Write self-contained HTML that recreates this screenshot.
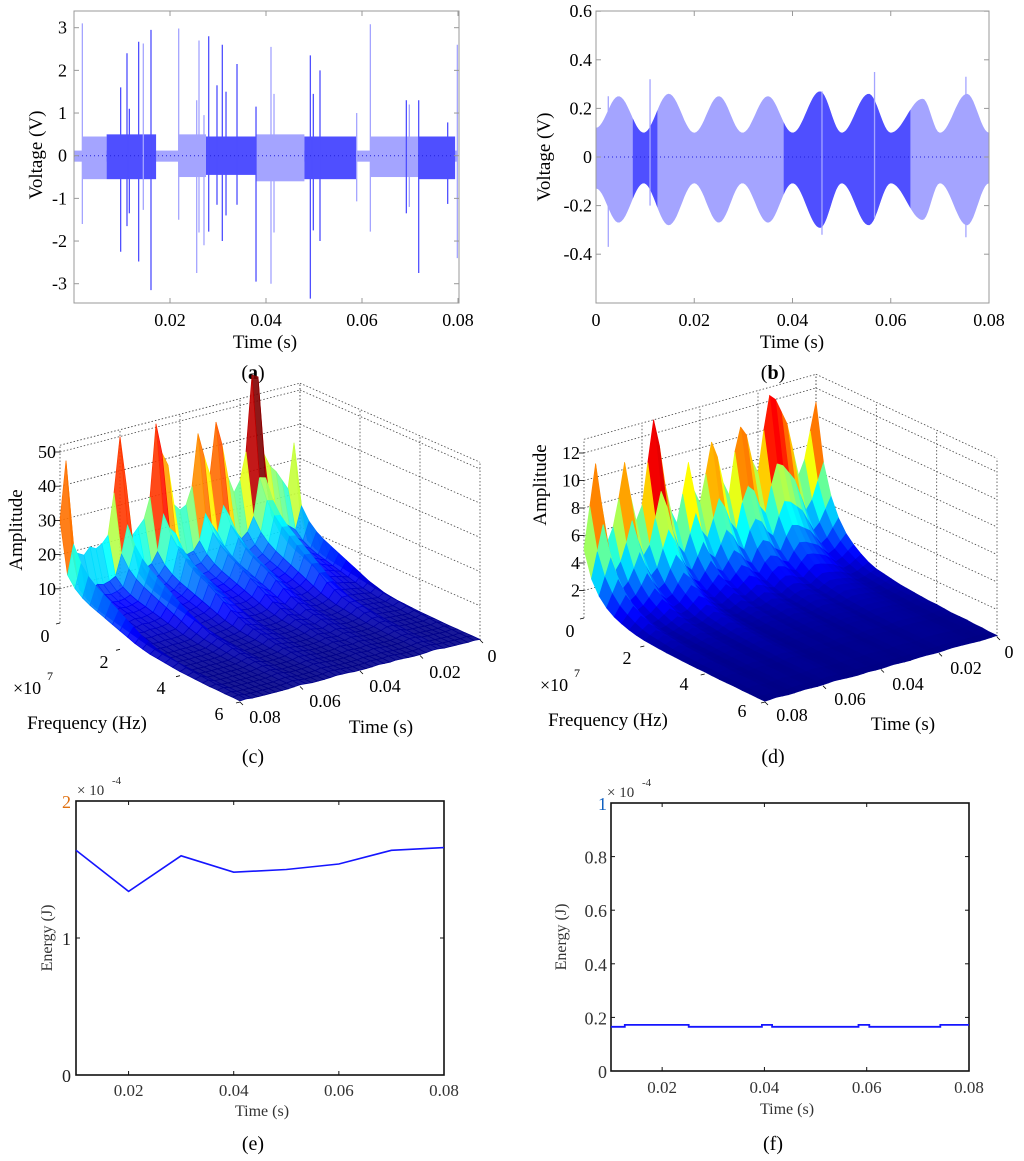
<!DOCTYPE html>
<html><head><meta charset="utf-8"><style>
html,body{margin:0;padding:0;background:#fff;}
svg{display:block;font-family:"Liberation Serif",serif;}
</style></head><body>
<svg id="fig" width="1024" height="1161" viewBox="0 0 1024 1161" xmlns="http://www.w3.org/2000/svg">
<rect width="1024" height="1161" fill="#fff"/>
<g id="pa"></g>
<g id="pb"></g>
<g id="pc"></g>
<g id="pd"></g>
<g id="pe"></g>
<g id="pf"></g>
</svg>
<script>
// ---------- Panel (a) data ----------
const aSegStart=[0.0017,0.0068,0.0217,0.0275,0.038,0.048,0.0617,0.0717];
const aSegEnd=[0.0068,0.0171,0.0275,0.038,0.048,0.0588,0.0717,0.0794];
const aSegHi=[0.45,0.5,0.5,0.45,0.5,0.45,0.45,0.45];
const aSegLo=[-0.55,-0.55,-0.5,-0.45,-0.6,-0.55,-0.5,-0.55];
const aSegDark=[0,1,0,1,0,1,0,1];
const aSpikeT=[0.00174,0.00972,0.01104,0.01153,0.01347,0.01444,0.01604,0.02181,0.02556,0.02604,0.02708,0.02806,0.02979,0.0309,0.03167,0.03396,0.03792,0.04104,0.04167,0.04924,0.04986,0.05125,0.05889,0.06174,0.06924,0.06986,0.07181,0.07785,0.07986];
const aSpikeHi=[3.1,1.6,2.4,1.1,2.67,2.63,2.95,2.98,1.3,2.7,0.95,2.8,1.65,2.6,1.5,2.15,1.15,2.55,1.45,2.35,1.45,2.0,1.0,3.08,1.3,1.2,1.3,0.78,2.6];
const aSpikeLo=[-1.6,-2.25,-1.65,-1.35,-2.48,-1.27,-3.15,-1.5,-2.75,-1.8,-2.1,-1.78,-1.15,-2.0,-1.4,-1.15,-2.95,-3.0,-1.8,-3.35,-1.75,-2.0,-1.07,-1.78,-1.35,-1.2,-2.75,-1.13,-2.4];
const aSpikeDark=[0,1,1,1,1,0,1,0,0,0,0,1,1,1,1,1,1,0,0,1,1,1,0,0,1,0,1,1,0];
const aYTicks=[-3,-2,-1,0,1,2,3];
const aXTicks=[0.02,0.04,0.06,0.08];
// ---------- Panel (b) data ----------
const bEnvT=[0,0.0046,0.0097,0.0148,0.02,0.025,0.0298,0.035,0.04,0.0456,0.050,0.0555,0.060,0.0665,0.070,0.0755,0.08];
const bEnvA=[0.12,0.25,0.1,0.26,0.1,0.25,0.1,0.25,0.1,0.27,0.1,0.26,0.1,0.24,0.1,0.26,0.1];
const bDarkStart=[0.0075,0.0382];
const bDarkEnd=[0.0125,0.064];
const bSpikeT=[0.0025,0.011,0.046,0.0567,0.0753];
const bSpikeHi=[0.25,0.32,0.27,0.35,0.33];
const bSpikeLo=[-0.37,-0.2,-0.32,-0.25,-0.33];
const bYTicks=[-0.4,-0.2,0,0.2,0.4,0.6];
const bXTicks=[0,0.02,0.04,0.06,0.08];
// ---------- Panels (c),(d) data ----------
const specTimes=[0,0.002,0.004,0.006,0.008,0.01,0.012,0.014,0.016,0.018,0.02,0.022,0.024,0.026,0.028,0.03,0.032,0.034,0.036,0.038,0.04,0.042,0.044,0.046,0.048,0.05,0.052,0.054,0.056,0.058,0.06,0.062,0.064,0.066,0.068,0.07,0.072,0.074,0.076,0.078,0.08];
const specFreqs=[0,0.25,0.5,0.75,1,1.25,1.5,1.75,2,2.25,2.5,2.75,3,3.25,3.5,3.75,4,4.25,4.5,4.75,5,5.25,5.5,5.75,6];
const cAmp=[14,35,22,25,28,30,34,57,58,36,28,25,30,40,47,32,38,45,30,25,24,26,38,42,51,30,24,22,20,36,50,34,22,20,19,20,18,19,20,47,30];
const cProfile=[1,0.5,0.4,0.34,0.3,0.27,0.24,0.21,0.18,0.15,0.12,0.1,0.08,0.07,0.06,0.05,0.04,0.035,0.03,0.025,0.02,0.02,0.015,0.015,0.01];
const dAmp=[11,9,7,6,8,10,11,12,12.4,10,7,8,10,10.7,9,6,7,9,10.2,8,6,7,9.2,7,5,6,8,11,13,10,7,6,8,10.5,8,6,5,8,11,8,5];
const dProfile=[1,0.62,0.42,0.3,0.22,0.17,0.13,0.1,0.08,0.07,0.06,0.05,0.045,0.04,0.035,0.03,0.03,0.025,0.02,0.02,0.02,0.015,0.015,0.01,0.01];
const cZTicks=[10,20,30,40,50];
const dZTicks=[2,4,6,8,10,12];
const specFTicks=[0,2,4,6];
const specTTicks=[0,0.02,0.04,0.06,0.08];
// ---------- Panels (e),(f) data ----------
const eTimes=[0.01,0.02,0.03,0.04,0.05,0.06,0.07,0.08];
const eEnergy=[1.64,1.34,1.60,1.48,1.50,1.54,1.64,1.66];
const eYTicks=[0,1,2];
const efXTicks=[0.02,0.04,0.06,0.08];
const fStepT=[0.01,0.0127,0.0252,0.0395,0.0415,0.0584,0.0605,0.0744,0.08];
const fStepV=[0.165,0.172,0.165,0.172,0.165,0.172,0.165,0.172];
const fYTicks=[0,0.2,0.4,0.6,0.8,1];

const NS="http://www.w3.org/2000/svg";
function mk(parent,tag,attrs,text){const e=document.createElementNS(NS,tag);for(const k in attrs)e.setAttribute(k,attrs[k]);if(text!==undefined)e.textContent=text;parent.appendChild(e);return e;}
function fmt(v){return String(+v.toFixed(2));}

// ===== Panel a =====
(function(){
const g=document.getElementById('pa');
const X=t=>74+t*4800, Y=v=>155.7-v*42.67;
const L='#a4a4ff', D='#4f4fff';
const base=mk(g,'rect',{x:X(0),y:Y(0.12),width:X(0.08)-X(0),height:Y(-0.14)-Y(0.12),fill:L});


for(let i=0;i<aSegStart.length;i++){
 const r=mk(g,'rect',{x:X(aSegStart[i]),y:Y(aSegHi[i]),width:X(aSegEnd[i])-X(aSegStart[i]),height:Y(aSegLo[i])-Y(aSegHi[i]),fill:aSegDark[i]?D:L});
 
 
}
for(let i=0;i<aSpikeT.length;i++){
 const l=mk(g,'line',{x1:X(aSpikeT[i]),x2:X(aSpikeT[i]),y1:Y(aSpikeHi[i]),y2:Y(aSpikeLo[i]),stroke:aSpikeDark[i]?D:L,'stroke-width':1.3});
 
 
}
mk(g,'line',{x1:X(0),x2:X(0.08),y1:Y(0),y2:Y(0),stroke:'#2222dd','stroke-width':1,'stroke-dasharray':'1 3'});
mk(g,'rect',{x:74,y:11,width:385,height:292,fill:'none',stroke:'#999','stroke-width':1});
aYTicks.forEach(v=>{const y=Y(v);mk(g,'line',{x1:74,x2:79,y1:y,y2:y,stroke:'#999'});mk(g,'line',{x1:454,x2:459,y1:y,y2:y,stroke:'#999'});
 const t=mk(g,'text',{x:67,y:y+6,'text-anchor':'end','font-size':18},String(v));});
aXTicks.forEach(v=>{const x=X(v);mk(g,'line',{x1:x,x2:x,y1:298,y2:303,stroke:'#999'});mk(g,'line',{x1:x,x2:x,y1:11,y2:16,stroke:'#999'});
 const t=mk(g,'text',{x:x,y:326,'text-anchor':'middle','font-size':18},fmt(v));});
const xt=mk(g,'text',{x:265,y:348,'text-anchor':'middle','font-size':19},'Time (s)');
const yt=mk(g,'text',{x:0,y:0,'text-anchor':'middle','font-size':19,transform:'translate(42,155) rotate(-90)'},'Voltage (V)');
const pl=mk(g,'text',{x:253,y:379,'text-anchor':'middle','font-size':20});pl.innerHTML='(<tspan font-weight="bold">a</tspan>)';
})();

// ===== Panel b =====
(function(){
const g=document.getElementById('pb');
const X=t=>596+t*4912.5, Y=v=>157-v*243;
const L='#a4a4ff', D='#4f4fff';
function env(t){for(let i=0;i<bEnvT.length-1;i++){if(t>=bEnvT[i]&&t<=bEnvT[i+1]){const u=(t-bEnvT[i])/(bEnvT[i+1]-bEnvT[i]);const w=(1-Math.cos(Math.PI*u))/2;return bEnvA[i]*(1-w)+bEnvA[i+1]*w;}}return bEnvA[bEnvA.length-1];}
function band(t0,t1,col,name){let top=[],bot=[];const n=Math.max(4,Math.round((t1-t0)/0.0004));for(let k=0;k<=n;k++){const t=t0+(t1-t0)*k/n;const a=env(t);top.push(X(t).toFixed(1)+','+Y(a).toFixed(1));bot.unshift(X(t).toFixed(1)+','+Y(-a*1.08).toFixed(1));}
 const p=mk(g,'polygon',{points:top.concat(bot).join(' '),fill:col});}
band(0,0.08,L,'signal-envelope-light');
for(let i=0;i<bDarkStart.length;i++)band(bDarkStart[i],bDarkEnd[i],D,'signal-envelope-dark');
for(let i=0;i<bSpikeT.length;i++){const l=mk(g,'line',{x1:X(bSpikeT[i]),x2:X(bSpikeT[i]),y1:Y(bSpikeHi[i]),y2:Y(bSpikeLo[i]),stroke:L,'stroke-width':1.3});}
mk(g,'line',{x1:X(0),x2:X(0.08),y1:Y(0),y2:Y(0),stroke:'#2222dd','stroke-width':1,'stroke-dasharray':'1 3'});
mk(g,'rect',{x:596,y:11,width:393,height:292,fill:'none',stroke:'#999','stroke-width':1});
bYTicks.forEach(v=>{const y=Y(v);mk(g,'line',{x1:596,x2:601,y1:y,y2:y,stroke:'#999'});mk(g,'line',{x1:984,x2:989,y1:y,y2:y,stroke:'#999'});
 const t=mk(g,'text',{x:592,y:y+6,'text-anchor':'end','font-size':18},fmt(v));});
bXTicks.forEach(v=>{const x=X(v);mk(g,'line',{x1:x,x2:x,y1:298,y2:303,stroke:'#999'});mk(g,'line',{x1:x,x2:x,y1:11,y2:16,stroke:'#999'});
 const t=mk(g,'text',{x:x,y:326,'text-anchor':'middle','font-size':18},fmt(v));});
const xt=mk(g,'text',{x:792,y:348,'text-anchor':'middle','font-size':19},'Time (s)');
const yt=mk(g,'text',{x:0,y:0,'text-anchor':'middle','font-size':19,transform:'translate(550,157) rotate(-90)'},'Voltage (V)');
const pl=mk(g,'text',{x:773,y:379,'text-anchor':'middle','font-size':20});pl.innerHTML='(<tspan font-weight="bold">b</tspan>)';
})();

// ===== 3D panels =====
function cl(v){return Math.max(0,Math.min(1,v));}
function jet(v){v=cl(v);const r=cl(1.5-Math.abs(4*v-3)),gg=cl(1.5-Math.abs(4*v-2)),b=cl(1.5-Math.abs(4*v-1));return 'rgb('+Math.round(r*255)+','+Math.round(gg*255)+','+Math.round(b*255)+')';}
function spec(gid,cfg,amps,prof,zticks){
 const g=document.getElementById(gid);
 const P=(f,t,z)=>[cfg.O[0]+f*cfg.F[0]+(0.08-t)/0.08*cfg.T[0], cfg.O[1]+f*cfg.F[1]+(0.08-t)/0.08*cfg.T[1]-z*cfg.Z];
 const dot={stroke:'#444','stroke-width':0.8,'stroke-dasharray':'1.5 2',fill:'none'};
 const ln=(a,b,at)=>mk(g,'line',Object.assign({x1:a[0].toFixed(1),y1:a[1].toFixed(1),x2:b[0].toFixed(1),y2:b[1].toFixed(1)},at));
 zticks.forEach(z=>{ln(P(0,0.08,z),P(0,0,z),dot);ln(P(0,0,z),P(6,0,z),dot);});
 specTTicks.forEach(t=>ln(P(0,t,0),P(0,t,cfg.zmax),dot));
 specFTicks.forEach(f=>ln(P(f,0,0),P(f,0,cfg.zmax),dot));
 ln(P(0,0.08,cfg.zmax),P(0,0,cfg.zmax),dot);ln(P(0,0,cfg.zmax),P(6,0,cfg.zmax),dot);
 const sg=mk(g,'g',{});
 
 
 for(let i=0;i<specTimes.length-1;i++){for(let j=0;j<specFreqs.length-1;j++){
  const z00=amps[i]*prof[j],z01=amps[i]*prof[j+1],z10=amps[i+1]*prof[j],z11=amps[i+1]*prof[j+1];
  const pts=[P(specFreqs[j],specTimes[i],z00),P(specFreqs[j+1],specTimes[i],z01),P(specFreqs[j+1],specTimes[i+1],z11),P(specFreqs[j],specTimes[i+1],z10)];
  const mean=(z00+z01+z10+z11)/4,mx=Math.max(z00,z01,z10,z11);
  const col=jet((0.4*mean+0.6*mx)/cfg.cmax);
  const q=mk(sg,'polygon',{points:pts.map(p=>p[0].toFixed(1)+','+p[1].toFixed(1)).join(' '),fill:col,'fill-opacity':cfg.op,stroke:col,'stroke-width':0.7});
  
  
 }}
 zticks.forEach(z=>{const p=P(0,0.08,z);ln(p,[p[0]-5,p[1]],{stroke:'#000','stroke-width':0.8});});
 specFTicks.forEach(f=>{const p=P(f,0.08,0);ln(p,[p[0]-4,p[1]+1],{stroke:'#000','stroke-width':0.8});});
 specTTicks.forEach(t=>{const p=P(6,t,0);ln(p,[p[0]+3,p[1]+3],{stroke:'#000','stroke-width':0.8});});
 const T=(x,y,s,name,extra)=>{const e=mk(g,'text',Object.assign({x:x,y:y,'font-size':18},extra||{}),s);return e;};
 zticks.forEach(z=>{const p=P(0,0.08,z);T(p[0]-4,p[1]+6,String(z),'z-tick-label',{'text-anchor':'end'});});
 T(cfg.zero[0],cfg.zero[1],'0','z-tick-label-zero',{'text-anchor':'middle'});
 cfg.fl.forEach((p,k)=>T(p[0],p[1],String(specFTicks[k+1]),'frequency-tick-label',{'text-anchor':'middle'}));
 cfg.tl.forEach((p,k)=>T(p[0],p[1],fmt(specTTicks[4-k]),'time-tick-label',{'text-anchor':'middle'}));
 T(cfg.exp[0],cfg.exp[1],'×10','frequency-exponent',{'text-anchor':'start'});
 T(cfg.exp[0]+34,cfg.exp[1]-14,'7','frequency-exponent-power',{'font-size':12});
 T(cfg.fq[0],cfg.fq[1],'Frequency (Hz)','frequency-axis-title',{'text-anchor':'middle','font-size':19});
 T(cfg.tt[0],cfg.tt[1],'Time (s)','time-axis-title',{'text-anchor':'middle','font-size':19});
 T(0,0,'Amplitude','amplitude-axis-title',{'text-anchor':'middle','font-size':19,transform:'translate('+cfg.am[0]+','+cfg.am[1]+') rotate(-90)'});
 T(cfg.lab[0],cfg.lab[1],cfg.label,'panel-label',{'text-anchor':'middle','font-size':20});
}
spec('pc',{O:[60,623],F:[30,13.17],T:[240,-62],Z:3.42,zmax:52,cmax:52,op:0.9,
 zero:[45,642],fl:[[104,668],[161,694],[219,720]],tl:[[265,723],[325,707],[385,692],[445,678],[492,662]],
 exp:[13,694],fq:[87,729],tt:[381,733],am:[22,530],lab:[253,763],label:'(c)'},cAmp,cProfile,cZTicks);
spec('pd',{O:[584,618],F:[30.17,14],T:[232,-65],Z:13.75,zmax:13,cmax:13,op:1,
 zero:[570,637],fl:[[627,664],[684,690],[742,717]],tl:[[792,721],[850,705],[908,690],[966,674],[1009,658]],
 exp:[540,691],fq:[608,726],tt:[903,730],am:[546,485],lab:[773,763],label:'(d)'},dAmp,dProfile,dZTicks);

// ===== Panel e =====
(function(){
const g=document.getElementById('pe');
const X=t=>76+(t-0.01)*5257, Y=v=>1075-v*137;
mk(g,'rect',{x:76,y:801,width:368,height:274,fill:'none',stroke:'#111','stroke-width':1.6});
eYTicks.forEach(v=>{const y=Y(v);mk(g,'line',{x1:76,x2:80,y1:y,y2:y,stroke:'#111'});mk(g,'line',{x1:440,x2:444,y1:y,y2:y,stroke:'#111'});
 const t=mk(g,'text',{x:71,y:y+7,'text-anchor':'end','font-size':18,fill:v===2?'#e07010':'#222'},String(v));});
efXTicks.forEach(v=>{const x=X(v);mk(g,'line',{x1:x,x2:x,y1:1071,y2:1075,stroke:'#111'});mk(g,'line',{x1:x,x2:x,y1:801,y2:805,stroke:'#111'});
 const t=mk(g,'text',{x:x,y:1096,'text-anchor':'middle','font-size':17,fill:'#333'},fmt(v));});
const line=mk(g,'polyline',{points:eTimes.map((t,i)=>X(t).toFixed(1)+','+Y(eEnergy[i]).toFixed(1)).join(' '),fill:'none',stroke:'#1515ff','stroke-width':1.6});

const xt=mk(g,'text',{x:262,y:1116,'text-anchor':'middle','font-size':16,fill:'#333'},'Time (s)');
const yt=mk(g,'text',{x:0,y:0,'text-anchor':'middle','font-size':16,fill:'#333',transform:'translate(52,938) rotate(-90)'},'Energy (J)');
const ex=mk(g,'text',{x:77,y:795,'font-size':15,fill:'#333'},'× 10');
mk(g,'text',{x:112,y:784,'font-size':11,fill:'#333'},'-4');
const pl=mk(g,'text',{x:253,y:1150,'text-anchor':'middle','font-size':20},'(e)');
})();

// ===== Panel f =====
(function(){
const g=document.getElementById('pf');
const X=t=>611+(t-0.01)*5114, Y=v=>1071-v*268;
mk(g,'rect',{x:611,y:803,width:358,height:268,fill:'none',stroke:'#111','stroke-width':1.6});
fYTicks.forEach(v=>{const y=Y(v);mk(g,'line',{x1:611,x2:615,y1:y,y2:y,stroke:'#111'});mk(g,'line',{x1:965,x2:969,y1:y,y2:y,stroke:'#111'});
 const t=mk(g,'text',{x:607,y:y+7,'text-anchor':'end','font-size':18,fill:v===1?'#1060c0':'#333'},fmt(v));});
efXTicks.forEach(v=>{const x=X(v);mk(g,'line',{x1:x,x2:x,y1:1067,y2:1071,stroke:'#111'});mk(g,'line',{x1:x,x2:x,y1:803,y2:807,stroke:'#111'});
 const t=mk(g,'text',{x:x,y:1093,'text-anchor':'middle','font-size':17,fill:'#333'},fmt(v));});
let pts=[];
for(let i=0;i<fStepV.length;i++){pts.push(X(fStepT[i]).toFixed(1)+','+Y(fStepV[i]).toFixed(1));pts.push(X(fStepT[i+1]).toFixed(1)+','+Y(fStepV[i]).toFixed(1));}
const line=mk(g,'polyline',{points:pts.join(' '),fill:'none',stroke:'#1515ff','stroke-width':1.8});

const xt=mk(g,'text',{x:787,y:1114,'text-anchor':'middle','font-size':16,fill:'#333'},'Time (s)');
const yt=mk(g,'text',{x:0,y:0,'text-anchor':'middle','font-size':16,fill:'#333',transform:'translate(566,937) rotate(-90)'},'Energy (J)');
const ex=mk(g,'text',{x:607,y:797,'font-size':15,fill:'#333'},'× 10');
mk(g,'text',{x:642,y:786,'font-size':11,fill:'#333'},'-4');
const pl=mk(g,'text',{x:773,y:1150,'text-anchor':'middle','font-size':20},'(f)');
})();
</script>
</body></html>
